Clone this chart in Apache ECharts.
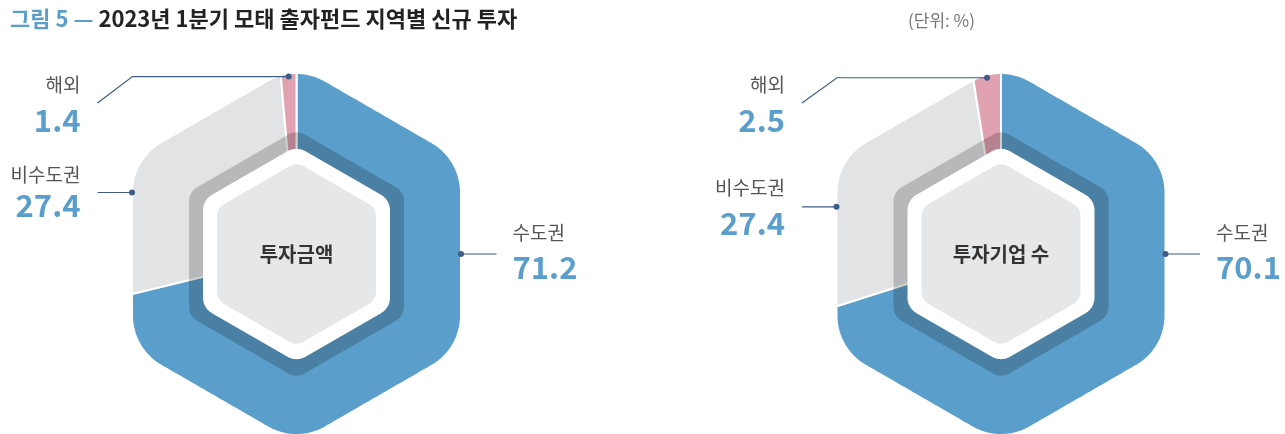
<!DOCTYPE html>
<html>
<head>
<meta charset="utf-8">
<script src="https://cdn.jsdelivr.net/npm/echarts@6/dist/echarts.min.js"></script>
<style>
html, body { margin: 0; padding: 0; background: #fff; }
#main { width: 1285px; height: 434px; }
</style>
</head>
<body>
<div id="main"></div>
<script>
var categories = ['수도권', '비수도권', '해외'];
var amountValues = [71.2, 27.4, 1.4];
var companyValues = [70.1, 27.4, 2.5];
var chartNames = ['투자금액', '투자기업 수'];
var figureNo = '그림 5 —';
var titleText = '2023년 1분기 모태 출자펀드 지역별 신규 투자';
var unitText = '(단위: %)';

var colors = ['#5a9ecb', '#e2e3e5', '#e0a1b0'];
var FONT = '"Noto Sans CJK KR", "Noto Sans", sans-serif';

// 둥근 육각형 (꼭짓점이 위)
function roundedHex(cx, cy, apothem, rc, steps) {
    var pts = [];
    var d = (apothem - rc) / Math.cos(Math.PI / 6);
    for (var k = 0; k < 6; k++) {
        var t = k * Math.PI / 3;
        var ax = cx + d * Math.sin(t), ay = cy - d * Math.cos(t);
        for (var s = 0; s <= steps; s++) {
            var p = t - Math.PI / 6 + s * (Math.PI / 3) / steps;
            pts.push([ax + rc * Math.sin(p), ay - rc * Math.cos(p)]);
        }
    }
    return pts;
}

function hitDist(pts, cx, cy, ang) {
    var dx = Math.sin(ang), dy = -Math.cos(ang);
    var best = Infinity;
    for (var i = 0; i < pts.length; i++) {
        var p = pts[i], q = pts[(i + 1) % pts.length];
        var ex = q[0] - p[0], ey = q[1] - p[1];
        var den = dx * ey - dy * ex;
        if (Math.abs(den) < 1e-9) continue;
        var wx = p[0] - cx, wy = p[1] - cy;
        var t = (wx * ey - wy * ex) / den;
        var u = (wx * dy - wy * dx) / den;
        if (t > 0 && u >= -1e-9 && u <= 1 + 1e-9 && t < best) best = t;
    }
    return best;
}

function slicePoints(pts, cx, cy, a0, a1) {
    var out = [[cx, cy]];
    var n = Math.max(2, Math.ceil((a1 - a0) / (Math.PI / 360)));
    for (var i = 0; i <= n; i++) {
        var a = a0 + (a1 - a0) * i / n;
        var r = hitDist(pts, cx, cy, a);
        out.push([cx + r * Math.sin(a), cy - r * Math.cos(a)]);
    }
    return out;
}

function angles(values) {
    var sum = 0, acc = 0, res = [];
    for (var i = 0; i < values.length; i++) sum += values[i];
    for (var i = 0; i < values.length; i++) {
        var a0 = acc / sum * Math.PI * 2;
        acc += values[i];
        res.push([a0, acc / sum * Math.PI * 2]);
    }
    return res;
}

var charts = [
    {
        name: chartNames[0], values: amountValues, cx: 296.5, cy: 254,
        labels: [
            { ang: 90, hx: 200, tx: 216, ny: -21, vy: 13, align: 'left' },
            { ang: 290.5, hx: -199, tx: -216, ny: -79, vy: -49, align: 'right' },
            { ang: null, hx: -164, end: [-199, -151], tx: -216, ny: -169, vy: -134, align: 'right' }
        ]
    },
    {
        name: chartNames[1], values: companyValues, cx: 1001, cy: 254,
        labels: [
            { ang: 90, hx: 199, tx: 215, ny: -21, vy: 13, align: 'left' },
            { ang: 286, hx: -199, tx: -216, ny: -66, vy: -31, align: 'right' },
            { ang: null, hx: -164, end: [-199, -151], tx: -216, ny: -169, vy: -134, align: 'right' }
        ]
    }
];

var OUTER = 164.5, OUTER_RC = 58;

function sliceSeries(c) {
    var outline = roundedHex(c.cx, c.cy, OUTER, OUTER_RC, 30);
    var ang = angles(c.values);
    return {
        type: 'custom',
        coordinateSystem: 'none',
        z: 2,
        silent: true,
        data: c.values.map(function (v, i) { return [v, i]; }),
        renderItem: function (params, api) {
            var i = params.dataIndex;
            return {
                type: 'polygon',
                shape: { points: slicePoints(outline, c.cx, c.cy, ang[i][0], ang[i][1]) },
                style: { fill: colors[i], stroke: '#fff', lineWidth: 2 }
            };
        }
    };
}

function hubSeries(c) {
    var outline = roundedHex(c.cx, c.cy, OUTER, OUTER_RC, 30);
    var ang = angles(c.values);
    return {
        type: 'custom',
        coordinateSystem: 'none',
        z: 3,
        silent: true,
        data: [[0]],
        renderItem: function (params, api) {
            var kids = [
                { type: 'polygon', shape: { points: roundedHex(c.cx, c.cy, 107.5, 16, 12) }, style: { fill: 'rgba(0,0,0,0.19)' } },
                { type: 'polygon', shape: { points: roundedHex(c.cx, c.cy, 93.5, 18, 12) }, style: { fill: '#fff' } },
                { type: 'polygon', shape: { points: roundedHex(c.cx, c.cy, 79.5, 14, 12) }, style: { fill: '#e6e7e9' } },
                {
                    type: 'text',
                    style: {
                        text: c.name, x: c.cx, y: c.cy, align: 'center', verticalAlign: 'middle',
                        fill: '#333', fontSize: 20, fontWeight: 'bold', fontFamily: FONT
                    }
                }
            ];
            for (var i = 0; i < c.labels.length; i++) {
                var L = c.labels[i];
                var a = L.ang === null ? (ang[i][0] + ang[i][1]) / 2 : L.ang * Math.PI / 180;
                var r = hitDist(outline, c.cx, c.cy, a) - (L.ang === null ? 3 : 0);
                var px = c.cx + r * Math.sin(a), py = c.cy - r * Math.cos(a);
                var line = [[px, py], [c.cx + L.hx, py]];
                if (L.end) line.push([c.cx + L.end[0], c.cy + L.end[1]]);
                kids.push({ type: 'polyline', shape: { points: line }, style: { stroke: '#3f5b86', lineWidth: 1.2, fill: null } });
                kids.push({ type: 'circle', shape: { cx: px, cy: py, r: 3 }, style: { fill: '#3f5b86' } });
                kids.push({
                    type: 'text',
                    style: {
                        text: categories[i], x: c.cx + L.tx, y: c.cy + L.ny, align: L.align, verticalAlign: 'middle',
                        fill: '#555', fontSize: 19, fontFamily: FONT
                    }
                });
                kids.push({
                    type: 'text',
                    style: {
                        text: c.values[i].toFixed(1), x: c.cx + L.tx, y: c.cy + L.vy, align: L.align, verticalAlign: 'middle',
                        fill: '#5a9ecb', fontSize: 31, fontWeight: 'bold', fontFamily: FONT
                    }
                });
            }
            return { type: 'group', children: kids };
        }
    };
}

var chart = echarts.init(document.getElementById('main'));
chart.setOption({
    animation: false,
    backgroundColor: '#fff',
    title: [
        {
            left: 5, top: 3,
            text: '{a|' + figureNo + '} {b|' + titleText + '}',
            textStyle: {
                rich: {
                    a: { fontSize: 22, color: '#5a9ecb', fontFamily: FONT, fontWeight: 'bold' },
                    b: { fontSize: 22, color: '#222', fontFamily: FONT, fontWeight: 'bold' }
                }
            }
        },
        {
            left: 903, top: 7,
            text: unitText,
            textStyle: { fontSize: 17, color: '#777', fontFamily: FONT, fontWeight: 'normal' }
        }
    ],
    series: [sliceSeries(charts[0]), hubSeries(charts[0]), sliceSeries(charts[1]), hubSeries(charts[1])]
});
</script>
</body>
</html>
